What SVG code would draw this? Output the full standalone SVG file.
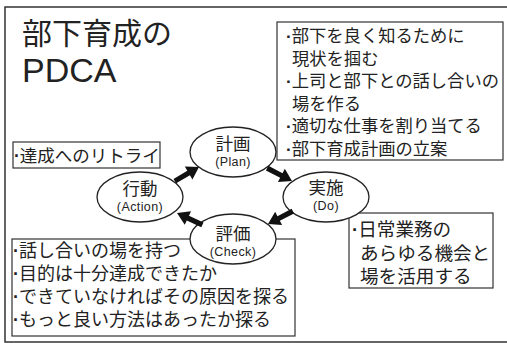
<svg xmlns="http://www.w3.org/2000/svg" xmlns:xlink="http://www.w3.org/1999/xlink" width="507" height="343" viewBox="0 0 507 343">
<style>
.frame{fill:#fff;stroke:#333;stroke-width:1.5}
.box{fill:#fff;stroke:#333;stroke-width:1.2}
.ell{fill:#fff;stroke:#222;stroke-width:1.3}
.jp{font-family:"Noto Sans CJK JP","Noto Sans",sans-serif;fill:#222}
.dot{font-family:"Liberation Sans",Arial,sans-serif;font-weight:bold}
.big{font-size:30px}
.en{font-family:"Liberation Sans",Arial,sans-serif;fill:#222}
.sub{font-size:12.5px;letter-spacing:0.4px}
.lbl{font-size:17.5px}
.arr{fill:#111}
</style>
<defs>
<path id="arr" d="M-28,-2.6 L-12,-2.6 L-12,-7.5 L0,0 L-12,7.5 L-12,2.6 L-28,2.6 Z"/>
</defs>
<rect class="frame" x="5" y="7" width="510" height="335"/>
<g id="title">
<text class="jp big" x="22" y="44">部下育成の</text>
<text class="en" x="22" y="82" font-size="34">PDCA</text>
</g>
<g id="box-plan">
<rect class="box" x="277" y="22" width="226" height="138"/>
<g class="jp" font-size="17.3">
<text x="286" y="42"><tspan class="dot">·</tspan>部下を良く知るために</text>
<text x="292" y="64.5">現状を掴む</text>
<text x="286" y="87"><tspan class="dot">·</tspan>上司と部下との話し合いの</text>
<text x="292" y="109.5">場を作る</text>
<text x="286" y="132"><tspan class="dot">·</tspan>適切な仕事を割り当てる</text>
<text x="286" y="154.5"><tspan class="dot">·</tspan>部下育成計画の立案</text>
</g>
</g>
<g id="box-action">
<rect class="box" x="13" y="142" width="147" height="26"/>
<text class="jp" font-size="17.5" x="14" y="162"><tspan class="dot">·</tspan>達成へのリトライ</text>
</g>
<g id="box-do">
<rect class="box" x="349" y="213" width="144" height="75"/>
<g class="jp" font-size="18.6">
<text x="352" y="236"><tspan class="dot">·</tspan>日常業務の</text>
<text x="360" y="259.5">あらゆる機会と</text>
<text x="360" y="283">場を活用する</text>
</g>
</g>
<g id="box-check">
<rect class="box" x="12" y="239" width="283" height="97"/>
<g class="jp" font-size="18">
<text x="13" y="257"><tspan class="dot">·</tspan>話し合いの場を持つ</text>
<text x="13" y="280"><tspan class="dot">·</tspan>目的は十分達成できたか</text>
<text x="13" y="303"><tspan class="dot">·</tspan>できていなければその原因を探る</text>
<text x="13" y="326"><tspan class="dot">·</tspan>もっと良い方法はあったか探る</text>
</g>
</g>
<g id="node-plan">
<ellipse class="ell" cx="233" cy="152" rx="43" ry="25"/>
<text class="jp lbl" x="233" y="150" text-anchor="middle">計画</text>
<text class="en sub" x="233" y="166" text-anchor="middle">(Plan)</text>
</g>
<g id="node-do">
<ellipse class="ell" cx="326" cy="197" rx="43" ry="25"/>
<text class="jp lbl" x="326" y="194" text-anchor="middle">実施</text>
<text class="en sub" x="326" y="210" text-anchor="middle">(Do)</text>
</g>
<g id="node-check">
<ellipse class="ell" cx="233" cy="239" rx="43" ry="25"/>
<text class="jp lbl" x="233" y="240" text-anchor="middle">評価</text>
<text class="en sub" x="233" y="256" text-anchor="middle">(Check)</text>
</g>
<g id="node-action">
<ellipse class="ell" cx="140" cy="197" rx="43" ry="25"/>
<text class="jp lbl" x="140" y="195" text-anchor="middle">行動</text>
<text class="en sub" x="140" y="211" text-anchor="middle">(Action)</text>
</g>
<g id="connectors" class="arr">
<use xlink:href="#arr" transform="translate(199,167) rotate(-30.3)"/>
<use xlink:href="#arr" transform="translate(292,181) rotate(27.5)"/>
<use xlink:href="#arr" transform="translate(268,224) rotate(152.5)"/>
<use xlink:href="#arr" transform="translate(177,213) rotate(204.9)"/>
</g>
</svg>
